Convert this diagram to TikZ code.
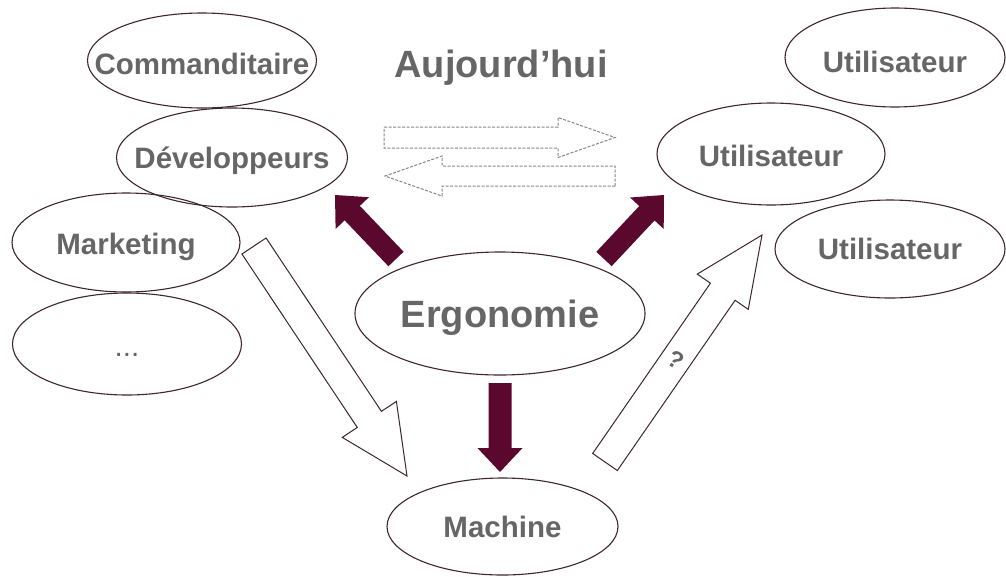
\documentclass[tikz,border=0pt]{standalone}
\usepackage{fontspec}
\setmainfont{Liberation Sans}
\usetikzlibrary{shapes.geometric,calc}

\definecolor{edge}{RGB}{60,38,48}
\definecolor{txt}{RGB}{102,102,102}
\definecolor{wine}{RGB}{90,8,45}
\definecolor{dashgray}{RGB}{135,135,135}

% Block arrow from #2 (tail) to #3 (tip):
% #1 style, #4 shaft half-width, #5 head half-width, #6 head length
\newcommand\blockarrow[6]{%
  \coordinate (hb) at ($(#3)!#6!(#2)$);
  \draw[#1] ($(#2)!#4!90:(#3)$) -- ($(hb)!#4!90:(#3)$) -- ($(hb)!#5!90:(#3)$)
    -- (#3) -- ($(hb)!#5!-90:(#3)$) -- ($(hb)!#4!-90:(#3)$)
    -- ($(#2)!#4!-90:(#3)$) -- cycle;
}

\begin{document}
\begin{tikzpicture}[x=1pt,y=-1pt,
  bubble/.style={ellipse, draw=edge, line width=1.1pt, inner sep=0pt},
  lbl/.style={inner sep=0pt, text=txt, font=\bfseries\fontsize{29.5}{32}\selectfont,
    text height=21pt, text depth=0pt},
  biglbl/.style={lbl, font=\bfseries\fontsize{38}{40}\selectfont, text height=27.2pt},
  solidarrow/.style={fill=wine, draw=none},
  hollowarrow/.style={fill=white, draw=edge, line width=1pt, line join=miter},
  dasharrow/.style={fill=white, draw=dashgray, line width=1pt, dash pattern=on 3pt off 1.5pt}]

\path[fill=white] (0,0) rectangle (1006,576);
\useasboundingbox (0,0) rectangle (1006,576);

% stakeholders on the left
\node[bubble, minimum width=229pt, minimum height=95pt] (comm) at (202,60.5) {};
\node[bubble, minimum width=231pt, minimum height=99pt] (dev) at (232,157.5) {};
\node[bubble, minimum width=228pt, minimum height=99pt] (mkt) at (126,242.5) {};
\node[bubble, minimum width=229pt, minimum height=102pt] (etc) at (127,344) {};
\node[lbl] (commT) at ([yshift=-3.5pt]comm.center) {Commanditaire};
\node[lbl] (devT) at (dev.center) {Développeurs};
\node[lbl] (mktT) at ([yshift=-1.5pt]mkt.center) {Marketing};
\node[lbl, font=\fontsize{29.5}{32}\selectfont] (etcT) at ([yshift=-2pt]etc.center) {...};

% centre and bottom
\node[bubble, minimum width=290pt, minimum height=123pt] (ergo) at (500,313.5) {};
\node[biglbl] (ergoT) at (ergo.center) {Ergonomie};
\node[bubble, minimum width=231pt, minimum height=97pt] (mach) at (502.5,526.5) {};
\node[lbl] (machT) at (mach.center) {Machine};

% users on the right
\node[bubble, minimum width=220pt, minimum height=99pt] (u1) at (895,57.5) {};
\node[bubble, minimum width=228pt, minimum height=102pt] (u2) at (771,154) {};
\node[bubble, minimum width=230pt, minimum height=98pt] (u3) at (890,249) {};
\node[lbl] (u1T) at ([yshift=-4.5pt]u1.center) {Utilisateur};
\node[lbl] (u2T) at ([yshift=-2pt]u2.center) {Utilisateur};
\node[lbl] (u3T) at (u3.center) {Utilisateur};

% title
\node[biglbl] (title) at (501,64) {Aujourd’hui};

% arrow end points
\coordinate (toDevS) at (396,259);   \coordinate (toDevE) at (335,195);
\coordinate (toUsrS) at (604,259);   \coordinate (toUsrE) at (664,195);
\coordinate (toMachS) at (500,383);  \coordinate (toMachE) at (500,472);
\coordinate (mktS) at (254,246);     \coordinate (mktE) at (407,476);
\coordinate (qS) at (605,462);       \coordinate (qE) at (762,235);
\coordinate (fwdS) at (384,137.5);   \coordinate (fwdE) at (615,137.5);
\coordinate (backS) at (615,176);    \coordinate (backE) at (385,176);

% exchange between developers and users
\blockarrow{dasharrow}{fwdS}{fwdE}{10.5pt}{20pt}{57pt}
\blockarrow{dasharrow}{backS}{backE}{10pt}{20pt}{57pt}

% ergonomics towards developers, users and machine
\blockarrow{solidarrow}{toDevS}{toDevE}{10.5pt}{23pt}{25pt}
\blockarrow{solidarrow}{toUsrS}{toUsrE}{10.5pt}{23pt}{25pt}
\blockarrow{solidarrow}{toMachS}{toMachE}{11.5pt}{22.5pt}{24pt}

% marketing to machine, machine to user
\blockarrow{hollowarrow}{mktS}{mktE}{14.5pt}{32.5pt}{68pt}
\blockarrow{hollowarrow}{qS}{qE}{15pt}{31pt}{69pt}
\node[inner sep=0pt, text=txt, font=\bfseries\fontsize{24}{26}\selectfont, rotate=-30] (q) at (676,360) {?};

\end{tikzpicture}
\end{document}
